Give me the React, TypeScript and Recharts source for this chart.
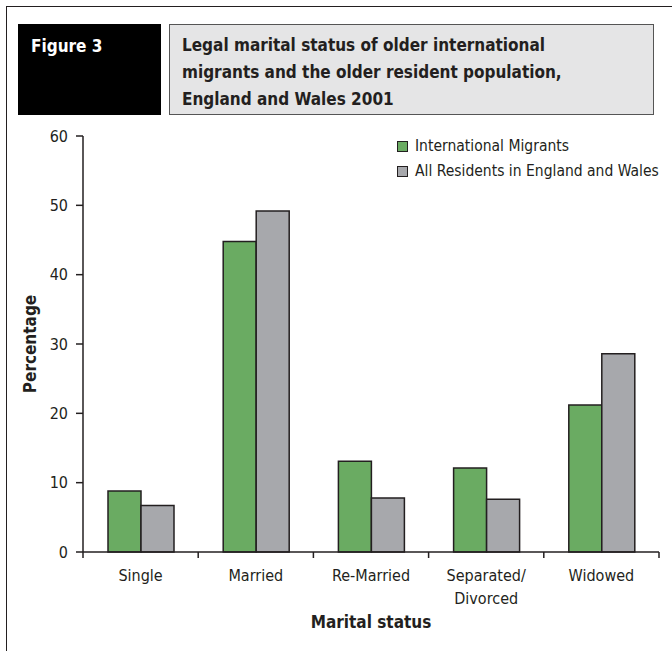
import { BarChart, Bar, XAxis, YAxis, Legend } from "recharts";

const categories = ["Single", "Married", "Re-Married", "Separated/\nDivorced", "Widowed"];
const migrants = [8.8, 44.8, 13.1, 12.1, 21.2];
const residents = [6.7, 49.2, 7.8, 7.6, 28.6];
const yTicks = [0, 10, 20, 30, 40, 50, 60];
const seriesNames = ["International Migrants", "All Residents in England and Wales"];
const seriesColors = ["#6aab62", "#a7a8ac"];

const data = categories.map((name, i) => ({
  name,
  migrants: migrants[i],
  residents: residents[i],
}));

const FONT = "'Liberation Sans Narrow', 'DejaVu Sans Condensed', Roboto, sans-serif";
const INK = "#231f20";

const CategoryTick = (props: any) => {
  const { x, y, payload, index } = props;
  const half = payload && typeof payload.offset === "number" ? payload.offset : 57.6;
  const lines = String(payload.value).split("\n");
  return (
    <g>
      <line x1={x - half} x2={x - half} y1={y} y2={y + 6} stroke={INK} strokeWidth={1.5} />
      {index === categories.length - 1 && (
        <line x1={x + half} x2={x + half} y1={y} y2={y + 6} stroke={INK} strokeWidth={1.5} />
      )}
      <text x={x} y={y + 29} textAnchor="middle" fontSize={16} fill={INK}>
        {lines.map((l, i) => (
          <tspan key={i} x={x} dy={i === 0 ? 0 : 23}>
            {l}
          </tspan>
        ))}
      </text>
    </g>
  );
};

const renderLegend = () => (
  <div style={{ fontSize: 15.5, color: INK, lineHeight: "25px" }}>
    {seriesNames.map((n, i) => (
      <div key={n} style={{ display: "flex", alignItems: "center" }}>
        <span
          style={{
            display: "inline-block",
            width: 9,
            height: 9,
            background: seriesColors[i],
            border: `1px solid ${INK}`,
            marginRight: 7,
          }}
        />
        {n}
      </div>
    ))}
  </div>
);

export default function App() {
  return (
    <div
      style={{
        position: "fixed",
        left: 0,
        top: 0,
        width: 672,
        height: 651,
        overflow: "hidden",
        background: "#fff",
        fontFamily: FONT,
        color: INK,
      }}
    >
      <div
        style={{
          position: "absolute",
          left: 6,
          top: 6,
          width: 720,
          height: 720,
          border: `1.5px solid ${INK}`,
        }}
      />
      <div
        style={{
          position: "absolute",
          left: 18,
          top: 24,
          width: 143,
          height: 91,
          background: "#000",
          color: "#fff",
          fontWeight: "bold",
          fontSize: 17,
          boxSizing: "border-box",
          padding: "12px 0 0 13px",
        }}
      >
        Figure 3
      </div>
      <div
        style={{
          position: "absolute",
          left: 169,
          top: 24,
          width: 485,
          height: 91,
          background: "#e5e5e6",
          border: "1px solid #555",
          boxSizing: "border-box",
          fontWeight: "bold",
          fontSize: 17,
          lineHeight: "27px",
          padding: "7px 0 0 12px",
        }}
      >
        Legal marital status of older international
        <br />
        migrants and the older resident population,
        <br />
        England and Wales 2001
      </div>
      <div style={{ position: "absolute", left: 0, top: 120 }}>
        <BarChart
          width={672}
          height={531}
          data={data}
          margin={{ top: 16, right: 13, left: 0, bottom: 0 }}
          barGap={0}
          barSize={33}
        >
          <XAxis
            dataKey="name"
            height={99}
            interval={0}
            tickSize={0}
            tickMargin={0}
            tick={<CategoryTick />}
            axisLine={{ stroke: INK, strokeWidth: 1.5 }}
            label={{
              value: "Marital status",
              position: "insideBottom",
              offset: 23,
              fontSize: 17,
              fontWeight: "bold",
              fill: INK,
            }}
          />
          <YAxis
            width={83}
            domain={[0, 60]}
            ticks={yTicks}
            interval={0}
            tickSize={7}
            tickMargin={8}
            tick={{ fontSize: 16, fill: INK }}
            axisLine={{ stroke: INK, strokeWidth: 1.5 }}
            tickLine={{ stroke: INK, strokeWidth: 1.5 }}
            label={{
              content: (p: any) => {
                const vb = p.viewBox || { x: 0, y: 136, width: 83, height: 416 };
                const cx = vb.x + 30;
                const cy = vb.y + vb.height / 2;
                return (
                  <text
                    x={cx}
                    y={cy}
                    transform={`rotate(-90, ${cx}, ${cy})`}
                    textAnchor="middle"
                    dominantBaseline="central"
                    fontSize={17}
                    fontWeight="bold"
                    fill={INK}
                  >
                    Percentage
                  </text>
                );
              },
            }}
          />
          <Legend
            layout="vertical"
            align="center"
            verticalAlign="middle"
            wrapperStyle={{ left: 397, top: 14, width: 280 }}
            content={renderLegend}
          />
          <Bar
            dataKey="migrants"
            name={seriesNames[0]}
            fill={seriesColors[0]}
            stroke={INK}
            strokeWidth={1.5}
            isAnimationActive={false}
          />
          <Bar
            dataKey="residents"
            name={seriesNames[1]}
            fill={seriesColors[1]}
            stroke={INK}
            strokeWidth={1.5}
            isAnimationActive={false}
          />
        </BarChart>
      </div>
    </div>
  );
}
